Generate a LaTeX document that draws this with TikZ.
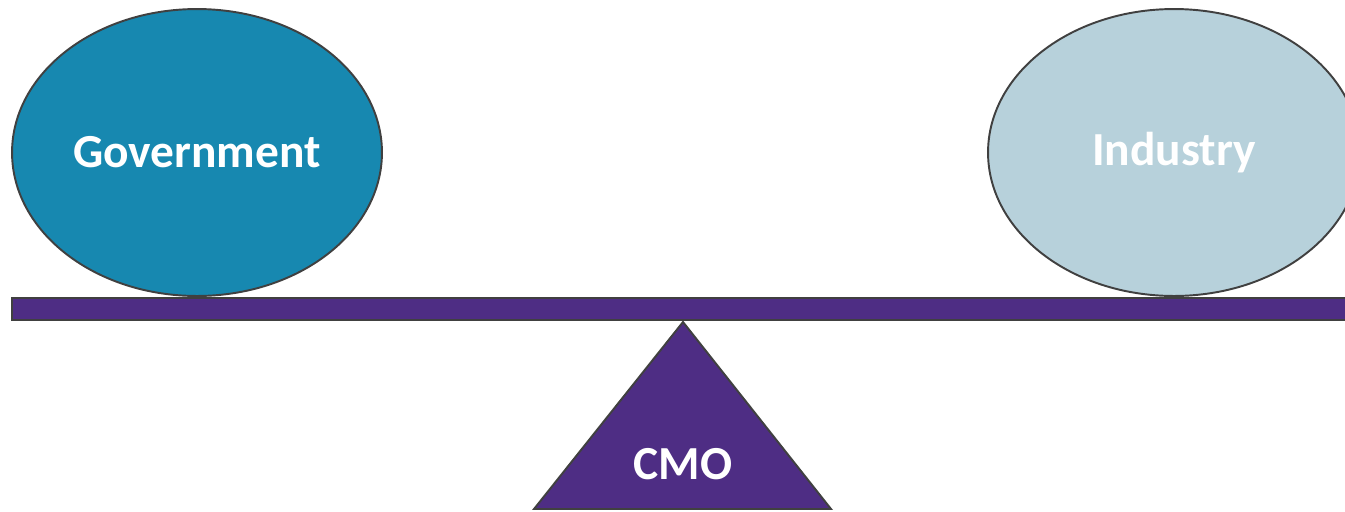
\documentclass[tikz,border=0pt]{standalone}
\usepackage{fontspec}
\setmainfont{Carlito}
\usetikzlibrary{shapes.geometric}
\definecolor{govblue}{HTML}{1788B0}
\definecolor{indgray}{HTML}{B7D1DB}
\definecolor{cmopurple}{HTML}{4E2D84}
\definecolor{edgegray}{HTML}{404040}
\tikzset{
  weight/.style={ellipse, draw=edgegray, line width=1.1pt, inner sep=0pt,
    minimum width=7.4cm, minimum height=5.74cm, text=white,
    font=\fontsize{27}{30}\selectfont\bfseries},
}
\begin{document}
\begin{tikzpicture}[x=0.02cm, y=-0.02cm]
  % page frame (pixel units, y down)
  \useasboundingbox (0,0) rectangle (1345,511);
  \clip (0,0) rectangle (1345,511);
  % beam
  \draw[fill=cmopurple, draw=edgegray, line width=1.1pt] (12,298) rectangle (1360,320);
  % fulcrum
  \coordinate (apex) at (683,322);
  \coordinate (baseL) at (534,509);
  \coordinate (baseR) at (831,509);
  \draw[fill=cmopurple, draw=edgegray, line width=1.1pt] (apex) -- (baseR) -- (baseL) -- cycle;
  \node[text=white, font=\fontsize{27}{30}\selectfont\bfseries] (cmo) at (683,464) {CMO};
  % the two weights
  \node[weight, fill=govblue] (gov) at (197,152.5) {\raisebox{-1pt}{Government}};
  \node[weight, fill=indgray, minimum width=7.44cm] (ind) at (1174,152.5) {\raisebox{-1pt}{Industry}};
\end{tikzpicture}
\end{document}
